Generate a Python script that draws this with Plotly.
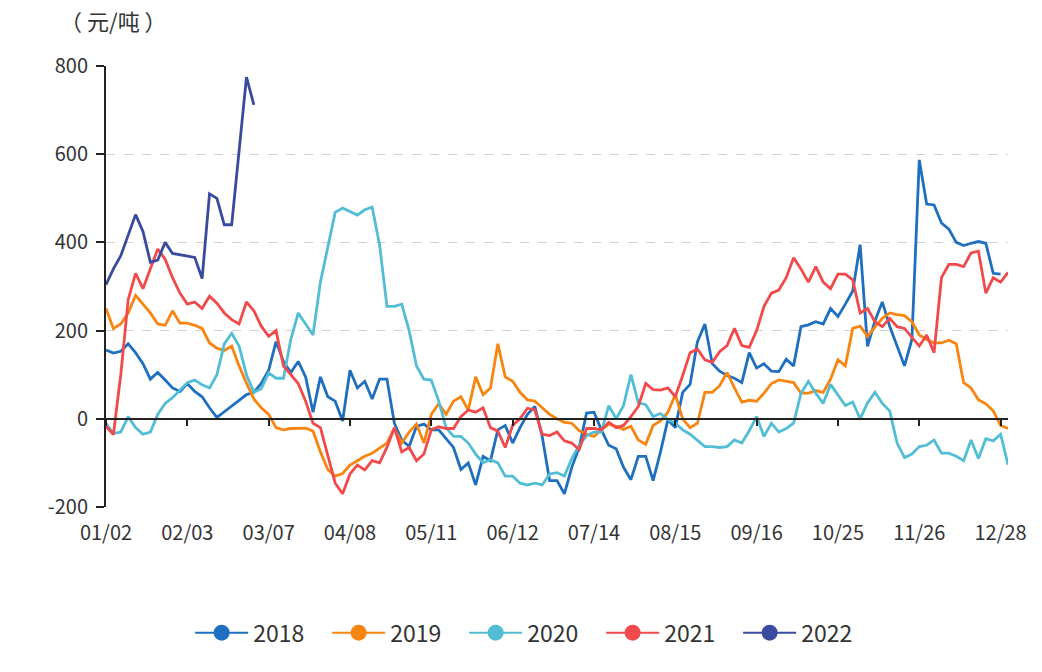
import plotly.graph_objects as go

tick_labels = ["01/02", "02/03", "03/07", "04/08", "05/11", "06/12",
               "07/14", "08/15", "09/16", "10/25", "11/26", "12/28"]
tick_step = 11
y_ticks = [-200, 0, 200, 400, 600, 800]
y_tick_text = ["-200", "0", "200", "400", "600", "800"]

y2018 = [156, 149, 153, 170, 150, 125, 90, 105, 88, 70,
         62, 80, 62, 50, 25, 3, 16, 28, 42, 55,
         60, 80, 110, 175, 130, 105, 130, 95, 15, 95,
         50, 40, -5, 110, 70, 85, 45, 90, 90, -10,
         -48, -63, -17, -12, -25, -25, -45, -65, -115, -100,
         -150, -85, -95, -25, -15, -55, -20, 10, 28, -40,
         -140, -140, -170, -110, -65, 13, 15, -25, -60, -68,
         -110, -138, -85, -85, -140, -75, -2, -20, 60, 78,
         175, 215, 125, 108, 98, 92, 82, 150, 115, 125,
         108, 107, 135, 120, 209, 213, 220, 215, 250, 232,
         260, 290, 395, 164, 222, 265, 210, 165, 120, 180,
         587, 487, 485, 444, 430, 400, 393, 398, 402, 398,
         330, 328]

y2019 = [250, 205, 215, 240, 280, 260, 240, 215, 212, 245,
         217, 217, 212, 205, 172, 160, 155, 165, 120, 81,
         45, 25, 10, -20, -25, -22, -21, -21, -28, -75,
         -115, -130, -124, -105, -95, -85, -78, -66, -55, -22,
         -55, -30, -12, -55, 10, 34, 10, 40, 50, 20,
         95, 55, 70, 170, 95, 85, 60, 43, 40, 25,
         10, 0, -8, -10, -27, -35, -40, -25, -12, -17,
         -24, -17, -48, -58, -15, -5, 15, 55, 0, -20,
         -10, 60, 60, 75, 105, 70, 38, 42, 40, 58,
         80, 88, 85, 82, 58, 58, 64, 60, 90, 134,
         120, 205, 210, 187, 208, 228, 240, 236, 234, 220,
         190, 180, 172, 172, 178, 170, 82, 70, 43, 34,
         18, -15, -22]

y2020 = [-10, -33, -30, 5, -20, -35, -30, 10, 35, 48,
         65, 82, 88, 77, 70, 100, 170, 194, 165, 100,
         60, 68, 104, 92, 92, 180, 240, 215, 190, 310,
         390, 468, 478, 470, 462, 474, 480, 395, 255, 255,
         260, 200, 120, 90, 88, 40, -20, -40, -40, -55,
         -80, -100, -93, -100, -130, -130, -146, -150, -146, -150,
         -125, -122, -130, -90, -60, -38, -30, -30, 30, 0,
         30, 100, 36, 32, 5, 12, -2, -10, -25, -35,
         -50, -63, -63, -65, -63, -48, -55, -27, 5, -40,
         -10, -30, -22, -10, 58, 85, 58, 35, 78, 55,
         30, 38, 0, 36, 60, 35, 18, -55, -88, -80,
         -63, -60, -48, -78, -78, -85, -95, -48, -90, -45,
         -50, -35, -104]

y2021 = [-17, -36, 100, 270, 330, 295, 340, 385, 362, 320,
         285, 260, 265, 250, 278, 262, 240, 225, 215, 265,
         245, 210, 187, 200, 120, 100, 80, 40, -10, -20,
         -80, -146, -170, -125, -105, -116, -95, -100, -65, -20,
         -75, -65, -95, -80, -25, -18, -22, -22, 5, 20,
         15, 25, -20, -28, -65, -15, 0, 24, 20, -35,
         -38, -30, -50, -55, -70, -22, -22, -25, -8, -20,
         -15, 5, 28, 80, 66, 65, 70, 50, 98, 150,
         158, 134, 128, 152, 166, 205, 166, 162, 200, 255,
         285, 292, 320, 365, 340, 310, 345, 310, 295, 328,
         328, 315, 240, 250, 220, 209, 228, 209, 205, 185,
         165, 190, 150, 320, 350, 350, 345, 376, 380, 285,
         320, 310, 332]

y2022 = [304, 340, 370, 415, 463, 425, 355, 360, 400, 375,
         372, 370, 366, 318, 510, 500, 440, 440, 615, 775,
         712]

series = [("2018", y2018, "#1f6fc0"),
          ("2019", y2019, "#f7850f"),
          ("2020", y2020, "#52bed6"),
          ("2021", y2021, "#f24a4a"),
          ("2022", y2022, "#3a4a9e")]

FONT = "Noto Sans CJK SC, Noto Sans, sans-serif"
TXT = "#333333"

fig = go.Figure()
for name, ys, col in series:
    fig.add_trace(go.Scatter(x=list(range(len(ys))), y=ys, mode="lines",
                             name=name, line=dict(color=col, width=2.8),
                             showlegend=False, legendgroup=name,
                             hoverinfo="skip"))
for name, ys, col in series:
    fig.add_trace(go.Scatter(x=[None], y=[None], mode="lines+markers",
                             name=name, legendgroup=name,
                             line=dict(color=col, width=2),
                             marker=dict(color=col, size=17)))

# helper trace so the zero-line axis is drawn
fig.add_trace(go.Scatter(x=[None], y=[None], xaxis="x2", showlegend=False,
                         hoverinfo="skip"))

tickvals = [i * tick_step for i in range(len(tick_labels))]
xrange_ = [0, 122]

fig.update_layout(
    width=1042, height=672,
    margin=dict(l=98, r=42, t=58, b=173),
    plot_bgcolor="white", paper_bgcolor="white",
    font=dict(family=FONT, size=20, color=TXT),
    title=dict(text="（ 元/吨 ）", xref="container", x=0.05, xanchor="left",
               yref="container", y=0.978, yanchor="middle",
               font=dict(size=22, color=TXT)),
    xaxis=dict(range=xrange_, tickvals=tickvals, ticktext=tick_labels,
               showgrid=False, zeroline=False, showline=False,
               ticks="outside", ticklen=8, tickcolor="rgba(0,0,0,0)",
               tickfont=dict(size=20, color=TXT)),
    xaxis2=dict(range=xrange_, overlaying="x", anchor="free", position=0.2,
                tickvals=tickvals, showticklabels=False, showgrid=False,
                zeroline=False, showline=True, linecolor="#222222",
                linewidth=2, ticks="outside", ticklen=6, tickwidth=1.5,
                tickcolor="#222222", layer="above traces"),
    yaxis=dict(range=[-200, 800], tickvals=y_ticks, ticktext=y_tick_text,
               showgrid=True, gridcolor="#d0d0d0", griddash="dash",
               gridwidth=1, zeroline=False, showline=True,
               linecolor="#222222", linewidth=2, ticks="outside",
               ticklen=8, tickwidth=1.5, tickcolor="#222222",
               ticklabelstandoff=4,
               tickfont=dict(size=20, color=TXT)),
    legend=dict(orientation="h", x=0.473, xanchor="center", y=-0.285,
                yanchor="middle", font=dict(size=23, color=TXT),
                itemwidth=53, entrywidth=69, entrywidthmode="pixels",
                traceorder="normal"),
)

fig.write_html("out.html")
